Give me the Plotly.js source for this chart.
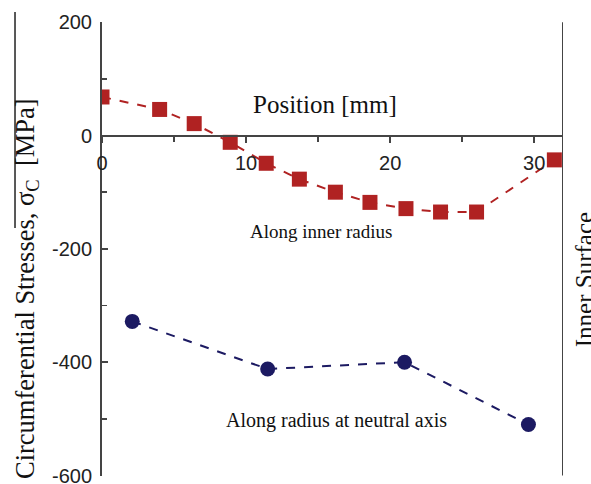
<!DOCTYPE html>
<html>
<head>
<meta charset="utf-8">
<script src="https://cdn.plot.ly/plotly-3.0.1.min.js"></script>
<style>html,body{margin:0;padding:0;background:#fff;}#chart{width:591px;height:484px;}</style>
</head>
<body>
<div id="chart"></div>
<script>
// Along inner radius (red squares)
var innerX = [0, 4.0, 6.4, 8.9, 11.4, 13.7, 16.2, 18.6, 21.1, 23.5, 26.0, 31.4];
var innerY = [68, 46, 21, -12, -49, -77, -100, -118, -129, -135, -135, -43];
// Along radius at neutral axis (blue circles)
var neutralX = [2.1, 11.5, 21.0, 29.6];
var neutralY = [-328, -412, -400, -510];

var xTickVals = [0, 10, 20, 30];
var yTickVals = [200, 0, -200, -400, -600];

var red = '#B02222';
var blue = '#1C1A62';
var axisCol = '#444444';

var traces = [
  {x: innerX, y: innerY, type: 'scatter', mode: 'lines+markers',
   line: {color: red, width: 2, dash: 'dash'},
   marker: {symbol: 'square', size: 15, color: red}, cliponaxis: true},
  {x: neutralX, y: neutralY, type: 'scatter', mode: 'lines+markers',
   line: {color: blue, width: 2, dash: 'dash'},
   marker: {symbol: 'circle', size: 15, color: blue}, cliponaxis: true}
];

var layout = {
  width: 591, height: 484,
  margin: {l: 102, r: 28, t: 22, b: 8},
  paper_bgcolor: '#fff', plot_bgcolor: '#fff',
  showlegend: false,
  xaxis: {
    range: [0, 32], anchor: 'free', position: 0.75,
    showgrid: false, zeroline: false,
    showline: true, linecolor: axisCol, linewidth: 2,
    ticks: 'outside', ticklen: 6, tickwidth: 1.5, tickcolor: axisCol,
    tickvals: xTickVals, ticktext: xTickVals.map(String),
    minor: {ticks: 'outside', dtick: 5, ticklen: 5, tickcolor: axisCol, tickwidth: 1.5},
    ticklabelstandoff: 3, ticklabeloverflow: 'allow',
    tickfont: {family: 'Liberation Sans, Arial', size: 20, color: '#222'}
  },
  yaxis: {
    range: [-600.8, 200.3],
    showgrid: false, zeroline: false,
    showline: true, linecolor: axisCol, linewidth: 2,
    ticks: 'inside', ticklen: 6, tickwidth: 1.5, tickcolor: axisCol,
    tickvals: yTickVals, ticktext: yTickVals.map(String),
    minor: {ticks: 'inside', dtick: 100, ticklen: 5, tickcolor: axisCol, tickwidth: 1.5},
    ticklabelstandoff: 4, ticklabeloverflow: 'allow',
    tickfont: {family: 'Liberation Sans, Arial', size: 20, color: '#222'}
  },
  shapes: [
    {type: 'line', xref: 'x', yref: 'y', x0: 32, x1: 32, y0: 200, y1: -600,
     line: {color: axisCol, width: 2}},
    {type: 'line', xref: 'paper', yref: 'paper', x0: -0.1887, x1: -0.1887, y0: 1.022, y1: 0.546,
     line: {color: '#222', width: 1.5}}
  ],
  annotations: [
    {text: 'Position [mm]', xref: 'x', yref: 'y', x: 15.5, y: 55, showarrow: false,
     font: {family: 'Liberation Serif, Times New Roman', size: 25, color: '#111'}},
    {text: 'Along inner radius', xref: 'x', yref: 'y', x: 15.2, y: -170, showarrow: false,
     font: {family: 'Liberation Serif, Times New Roman', size: 19, color: '#111'}},
    {text: 'Along radius at neutral axis', xref: 'x', yref: 'y', x: 16.3, y: -503, showarrow: false,
     font: {family: 'Liberation Serif, Times New Roman', size: 20, color: '#111'}},
    {text: 'Circumferential Stresses, σ<sub>C</sub>  [MPa]', xref: 'paper', yref: 'paper',
     x: -0.204, y: 0.414, textangle: -90, showarrow: false,
     font: {family: 'Liberation Serif, Times New Roman', size: 26.5, color: '#111'}},
    {text: 'Inner Surface', xref: 'paper', yref: 'paper',
     x: 1.080, y: 0.432, textangle: -90, showarrow: false,
     font: {family: 'Liberation Serif, Times New Roman', size: 25, color: '#111'}}
  ]
};

Plotly.newPlot('chart', traces, layout, {staticPlot: true, displayModeBar: false});
</script>
</body>
</html>
